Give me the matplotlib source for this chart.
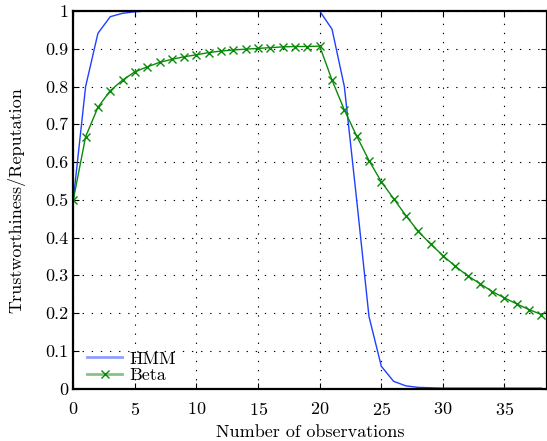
import matplotlib
matplotlib.use("Agg")
import matplotlib.pyplot as plt

# observations 0..38
obs = list(range(39))

hmm = [0.5, 0.80, 0.941, 0.985, 0.994, 0.998, 1.0, 1.0, 1.0, 1.0,
       1.0, 1.0, 1.0, 1.0, 1.0, 1.0, 1.0, 1.0, 1.0, 1.0,
       1.0, 0.952, 0.80, 0.50, 0.191, 0.059, 0.019, 0.007, 0.003, 0.002,
       0.001, 0.001, 0.001, 0.001, 0.001, 0.001, 0.001, 0.001, 0.001]

beta = [0.5, 0.667, 0.745, 0.789, 0.817, 0.839, 0.852, 0.864, 0.872, 0.879,
        0.884, 0.890, 0.894, 0.897, 0.899, 0.901, 0.903, 0.905, 0.906, 0.906,
        0.907, 0.817, 0.738, 0.669, 0.604, 0.548, 0.503, 0.458, 0.416, 0.383,
        0.352, 0.324, 0.299, 0.278, 0.257, 0.240, 0.224, 0.209, 0.196]

plt.rcParams["font.family"] = "serif"
plt.rcParams["font.serif"] = ["cmr10", "DejaVu Serif"]
plt.rcParams["axes.formatter.use_mathtext"] = True
plt.rcParams["font.size"] = 13

fig = plt.figure(figsize=(5.47, 4.41), dpi=100)
ax = fig.add_axes([0.134, 0.119, 0.866, 0.856])

blue = "#2040ff"
green = "#0a8a0a"
ax.plot(obs, hmm, color=blue, lw=1.0, label="HMM")
ax.plot(obs, beta, color=green, lw=1.0, marker="x", ms=6, mew=1.0, label="Beta")

ax.set_xlim(0, 38.45)
ax.set_ylim(0, 1)
ax.set_xticks(range(0, 40, 5))
ax.set_yticks([i / 10 for i in range(11)])
ax.set_yticklabels(["0", "0.1", "0.2", "0.3", "0.4", "0.5", "0.6", "0.7", "0.8", "0.9", "1"])
ax.grid(True, color="black", ls=(0, (1.2, 7)), lw=0.8)
ax.tick_params(direction="in", length=4, top=True, right=True, width=0.8)
ax.tick_params(axis="x", pad=9)
for s in ax.spines.values():
    s.set_linewidth(1.6)

ax.set_xlabel("Number of observations", labelpad=5)
ax.set_ylabel("Trustworthiness/Reputation", labelpad=14)

leg = ax.legend(loc="lower left", bbox_to_anchor=(0.018, 0.0), frameon=False,
                handlelength=1.95, borderaxespad=0.0, borderpad=0.3,
                labelspacing=0.05, handletextpad=0.4, numpoints=1)
for h in leg.get_lines():
    c = h.get_color()
    h.set_color(matplotlib.colors.to_rgba(c, 0.5))
    h.set_markeredgecolor(c)
    h.set_linewidth(2)

fig.savefig("out.png", dpi=100)
